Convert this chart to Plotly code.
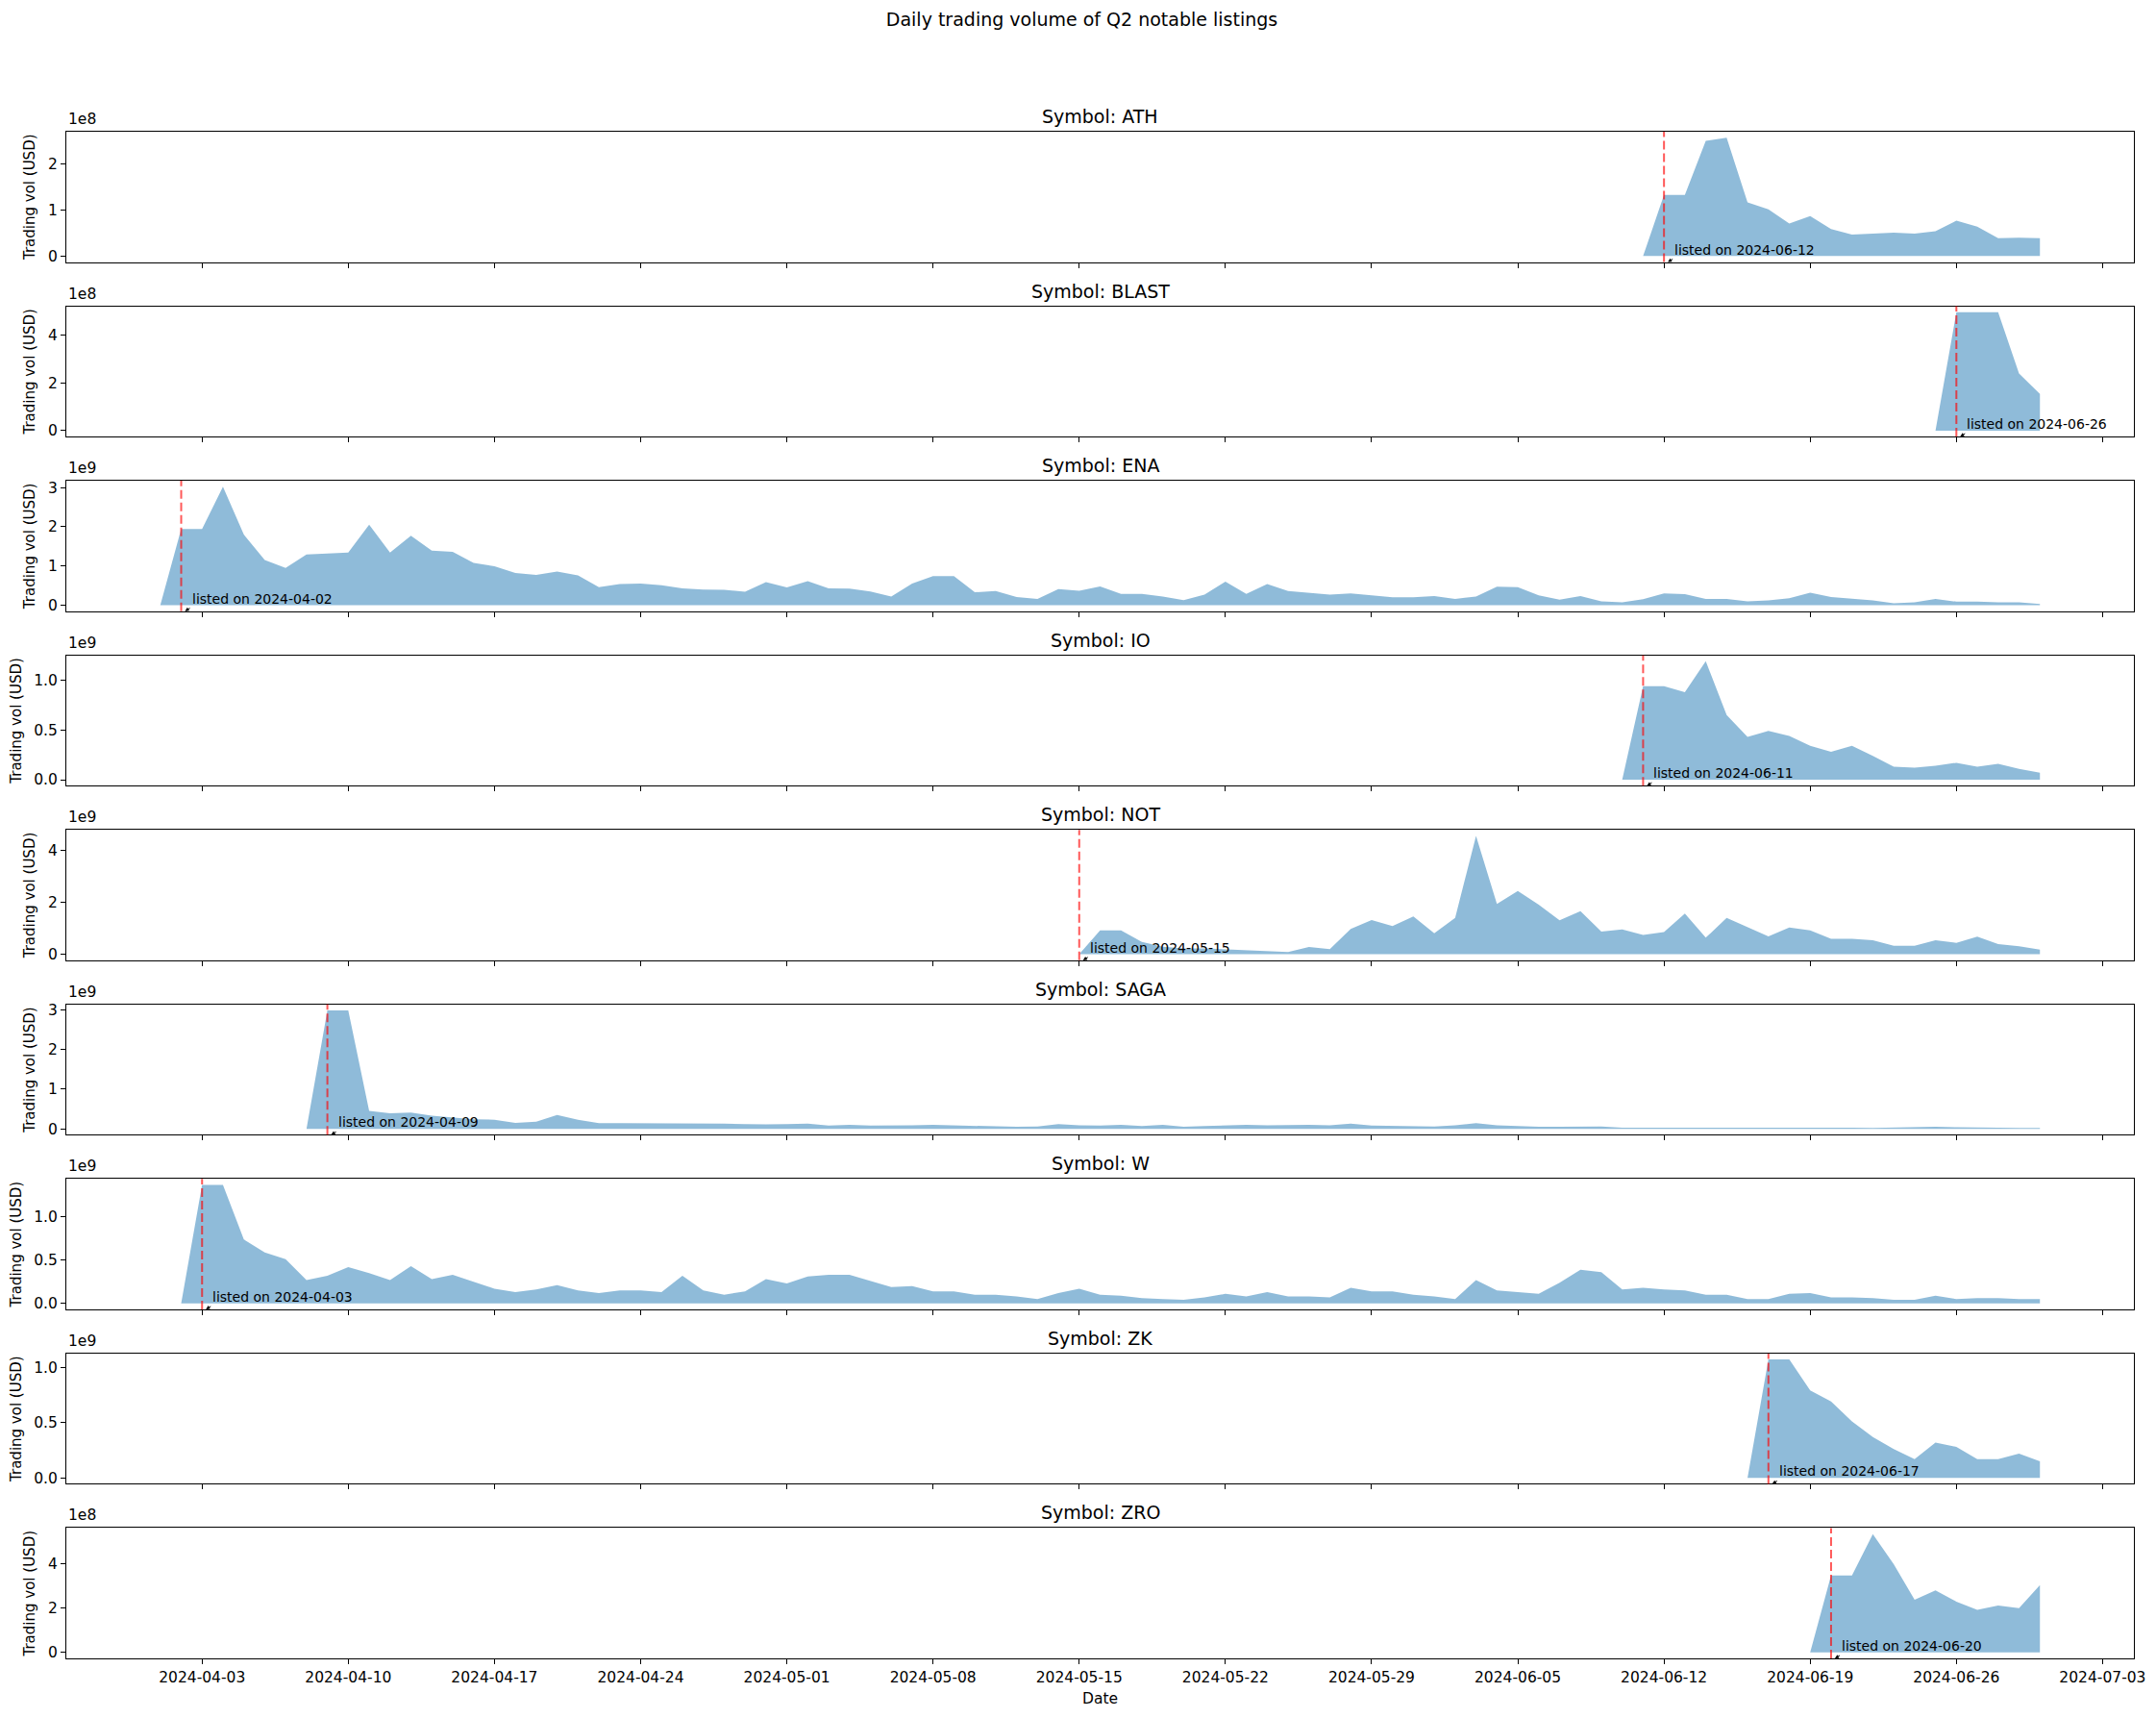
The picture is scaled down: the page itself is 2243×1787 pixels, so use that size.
import numpy as np
import pandas as pd
import plotly.graph_objects as go
from plotly.subplots import make_subplots

# daily dates shown on the shared x axis
dates = pd.date_range("2024-04-01", "2024-06-30", freq="D")

symbols = ["ATH", "BLAST", "ENA", "IO", "NOT", "SAGA", "W", "ZK", "ZRO"]
listing_dates = ["2024-06-12", "2024-06-26", "2024-04-02", "2024-06-11", "2024-05-15",
                 "2024-04-09", "2024-04-03", "2024-06-17", "2024-06-20"]

# daily volumes in USD, each series ends on 2024-06-30 (first value = day before listing)
ath_vol = [v * 1e8 for v in [
    0, 1.33, 1.33, 2.51, 2.58, 1.17, 1.02, 0.71, 0.87, 0.59,
    0.47, 0.49, 0.51, 0.49, 0.54, 0.77, 0.64, 0.39, 0.40, 0.39]]
blast_vol = [v * 1e8 for v in [0, 4.98, 4.98, 4.98, 2.40, 1.54]]
ena_vol = [v * 1e9 for v in [
    0, 1.94, 1.94, 3.02, 1.80, 1.15, 0.95, 1.29, 1.32, 1.34,
    2.05, 1.34, 1.77, 1.39, 1.36, 1.08, 0.99, 0.82, 0.77, 0.86,
    0.76, 0.46, 0.54, 0.55, 0.51, 0.43, 0.40, 0.39, 0.34, 0.59,
    0.45, 0.61, 0.43, 0.42, 0.35, 0.22, 0.55, 0.74, 0.74, 0.33,
    0.36, 0.21, 0.16, 0.41, 0.37, 0.48, 0.29, 0.29, 0.22, 0.13,
    0.27, 0.60, 0.29, 0.54, 0.36, 0.31, 0.27, 0.30, 0.25, 0.20,
    0.20, 0.23, 0.16, 0.22, 0.47, 0.46, 0.25, 0.14, 0.23, 0.10,
    0.07, 0.15, 0.30, 0.28, 0.16, 0.16, 0.10, 0.12, 0.18, 0.32,
    0.21, 0.17, 0.12, 0.05, 0.07, 0.16, 0.09, 0.09, 0.07, 0.07,
    0.03]]
io_vol = [v * 1e9 for v in [
    0, 0.94, 0.94, 0.88, 1.19, 0.65, 0.43, 0.49, 0.44, 0.34,
    0.28, 0.34, 0.24, 0.13, 0.12, 0.14, 0.17, 0.13, 0.16, 0.11,
    0.07]]
not_vol = [v * 1e9 for v in [
    0, 0.92, 0.92, 0.48, 0.29, 0.23, 0.23, 0.20, 0.15, 0.14,
    0.09, 0.28, 0.20, 0.98, 1.32, 1.09, 1.46, 0.81, 1.40, 4.57,
    1.94, 2.44, 1.91, 1.31, 1.66, 0.88, 0.96, 0.75, 0.86, 1.57,
    0.64, 1.40, 1.03, 0.69, 1.03, 0.92, 0.60, 0.60, 0.54, 0.33,
    0.33, 0.54, 0.44, 0.68, 0.39, 0.31, 0.18]]
saga_vol = [v * 1e9 for v in [
    0, 2.98, 2.98,
    0.45, 0.39, 0.41, 0.33, 0.28, 0.24, 0.23, 0.15, 0.18, 0.35,
    0.23, 0.14, 0.14, 0.14, 0.14, 0.14, 0.13, 0.13, 0.12, 0.11,
    0.12, 0.13, 0.08, 0.10, 0.08, 0.08, 0.09, 0.10, 0.09, 0.07,
    0.06, 0.05, 0.06, 0.12, 0.09, 0.08, 0.10, 0.07, 0.10, 0.05,
    0.07, 0.08, 0.10, 0.09, 0.10, 0.10, 0.09, 0.13, 0.08, 0.07,
    0.07, 0.06, 0.09, 0.14, 0.09, 0.07, 0.05, 0.05, 0.05, 0.06,
    0.03, 0.03, 0.04, 0.04, 0.04, 0.03, 0.03, 0.03, 0.04, 0.04,
    0.03, 0.03, 0.02, 0.03, 0.04, 0.05, 0.04, 0.03, 0.02, 0.02,
    0.02]]
w_vol = [v * 1e9 for v in [
    0, 1.37, 1.37, 0.74, 0.59, 0.51, 0.27, 0.32, 0.42,
    0.35, 0.27, 0.43, 0.28, 0.33, 0.25, 0.17, 0.13, 0.16, 0.21,
    0.15, 0.12, 0.15, 0.15, 0.13, 0.32, 0.15, 0.10, 0.14, 0.28,
    0.23, 0.31, 0.33, 0.33, 0.26, 0.19, 0.20, 0.14, 0.14, 0.10,
    0.10, 0.08, 0.05, 0.12, 0.17, 0.10, 0.09, 0.06, 0.05, 0.04,
    0.07, 0.11, 0.08, 0.13, 0.08, 0.08, 0.07, 0.18, 0.14, 0.14,
    0.10, 0.08, 0.05, 0.27, 0.15, 0.13, 0.11, 0.24, 0.39, 0.36,
    0.16, 0.18, 0.16, 0.15, 0.10, 0.10, 0.05, 0.05, 0.11, 0.12,
    0.07, 0.07, 0.06, 0.04, 0.04, 0.09, 0.05, 0.06, 0.06, 0.05,
    0.05]]
zk_vol = [v * 1e9 for v in [
    0, 1.07, 1.07, 0.79, 0.69, 0.51, 0.37, 0.26, 0.17, 0.32,
    0.28, 0.17, 0.17, 0.22, 0.15]]
zro_vol = [v * 1e8 for v in [
    0, 3.48, 3.48, 5.35, 3.99, 2.38, 2.81, 2.30, 1.93, 2.12,
    2.00, 3.04]]

volumes = [ath_vol, blast_vol, ena_vol, io_vol, not_vol, saga_vol, w_vol, zk_vol, zro_vol]

FONT = "DejaVu Sans"
FILL = "rgba(31,119,180,0.5)"
SMALL = 15.5
LARGE = 19


def y_ticks(vmax):
    # matplotlib-like ticks with a shared "1eN" offset
    exp = int(np.floor(np.log10(vmax)))
    base = 10.0 ** exp
    for step in (0.5, 1, 2, 2.5, 5):
        n = int(1.05 * vmax / (step * base)) + 1
        if n <= 4:
            break
    vals = [i * step * base for i in range(n)]
    fmt = "{:.1f}" if step < 1 else "{:.0f}"
    return vals, [fmt.format(i * step) for i in range(n)], exp


fig = make_subplots(rows=len(symbols), cols=1, shared_xaxes=True,
                    vertical_spacing=0.029,
                    subplot_titles=[f"Symbol: {s}" for s in symbols])

span = dates[-1] - dates[0]
x_range = [dates[0] - 0.05 * span, dates[-1] + 0.05 * span]

for i, (sym, listed, vol) in enumerate(zip(symbols, listing_dates, volumes), start=1):
    x = dates[-len(vol):]
    fig.add_trace(go.Scatter(x=x, y=vol, mode="lines", fill="tozeroy",
                             fillcolor=FILL, line=dict(width=0, color=FILL),
                             showlegend=False, hoverinfo="x+y"),
                  row=i, col=1)

    vmax = max(vol)
    tickvals, ticktext, exp = y_ticks(vmax)
    fig.update_yaxes(range=[-0.05 * vmax, 1.05 * vmax], tickvals=tickvals,
                     ticktext=ticktext, row=i, col=1)

    fig.add_vline(x=listed, line=dict(color="rgba(255,0,0,0.65)", width=2, dash="9px,4px"),
                  row=i, col=1)

    suffix = "" if i == 1 else str(i)
    fig.add_annotation(x=listed, xref=f"x{suffix}", y=0, yref=f"y{suffix} domain",
                       text=f"listed on {listed}", showarrow=True,
                       ax=5, ay=-3, xshift=4, xanchor="left", yanchor="bottom",
                       arrowhead=2, arrowsize=0.8, arrowwidth=1, arrowcolor="black",
                       font=dict(family=FONT, size=14, color="black"))
    fig.add_annotation(x=0, xref=f"x{suffix} domain", y=1, yref=f"y{suffix} domain",
                       text=f"1e{exp}", showarrow=False, xanchor="left", yanchor="bottom",
                       yshift=2, font=dict(family=FONT, size=SMALL, color="black"))

# subplot titles
for ann in fig.layout.annotations[:len(symbols)]:
    ann.font = dict(family=FONT, size=LARGE, color="black")
    ann.yshift = 3

fig.update_xaxes(type="date", range=x_range, tick0="2024-04-03", dtick=7 * 86400000,
                 tickformat="%Y-%m-%d", ticks="outside", ticklen=5, tickcolor="black",
                 showline=True, linecolor="black", linewidth=1, mirror=True,
                 showgrid=False, zeroline=False,
                 tickfont=dict(family=FONT, size=SMALL, color="black"))
fig.update_xaxes(title=dict(text="Date", font=dict(family=FONT, size=SMALL, color="black"),
                            standoff=8), row=len(symbols), col=1)
fig.update_yaxes(ticks="outside", ticklen=5, tickcolor="black",
                 showline=True, linecolor="black", linewidth=1, mirror=True,
                 showgrid=False, zeroline=False,
                 tickfont=dict(family=FONT, size=SMALL, color="black"),
                 title=dict(text="Trading vol (USD)", standoff=9,
                            font=dict(family=FONT, size=15, color="black")))

# the page body adds an 8px offset, so the figure is 8px smaller on each side
fig.update_layout(
    width=2235, height=1779,
    margin=dict(l=61, r=23, t=129, b=62, autoexpand=False),
    paper_bgcolor="white", plot_bgcolor="white",
    title=dict(text="Daily trading volume of Q2 notable listings", x=0.5, xanchor="center",
               y=1 - 12 / 1779, yanchor="middle",
               font=dict(family=FONT, size=LARGE, color="black")),
    font=dict(family=FONT, color="black"),
)

fig.write_html("out.html")
